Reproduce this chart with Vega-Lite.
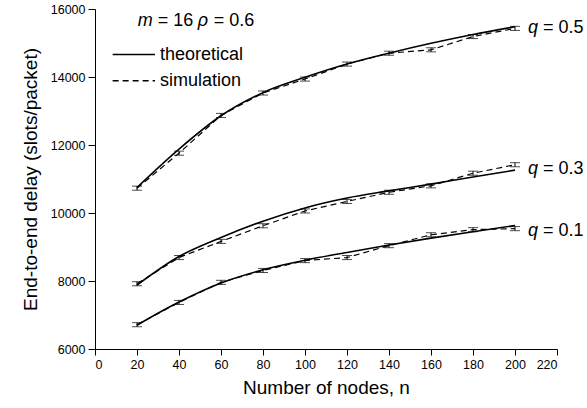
{
  "$schema": "https://vega.github.io/schema/vega-lite/v6.json",
  "width": 462,
  "height": 340,
  "autosize": {"type": "none"},
  "padding": {"left": 95, "top": 9, "right": 30, "bottom": 59},
  "background": "white",
  "config": {
    "view": {"stroke": null},
    "font": "Liberation Sans",
    "axis": {
      "grid": false,
      "domainColor": "black",
      "domainWidth": 1,
      "tickColor": "black",
      "tickWidth": 1,
      "labelColor": "black",
      "labelFont": "Liberation Sans",
      "labelFontSize": 12.5,
      "titleFont": "Liberation Sans",
      "titleFontWeight": "normal",
      "titleColor": "black",
      "titleFontSize": 19
    }
  },
  "datasets": {
    "theory": [
      {"n": 20, "v": 10750, "q": "0.5"}, {"n": 40, "v": 11880, "q": "0.5"}, {"n": 60, "v": 12860, "q": "0.5"}, {"n": 80, "v": 13540, "q": "0.5"}, {"n": 100, "v": 13990, "q": "0.5"}, {"n": 120, "v": 14380, "q": "0.5"}, {"n": 140, "v": 14700, "q": "0.5"}, {"n": 160, "v": 14990, "q": "0.5"}, {"n": 180, "v": 15250, "q": "0.5"}, {"n": 200, "v": 15480, "q": "0.5"},
      {"n": 20, "v": 7880, "q": "0.3"}, {"n": 40, "v": 8720, "q": "0.3"}, {"n": 60, "v": 9280, "q": "0.3"}, {"n": 80, "v": 9760, "q": "0.3"}, {"n": 100, "v": 10150, "q": "0.3"}, {"n": 120, "v": 10440, "q": "0.3"}, {"n": 140, "v": 10650, "q": "0.3"}, {"n": 160, "v": 10850, "q": "0.3"}, {"n": 180, "v": 11060, "q": "0.3"}, {"n": 200, "v": 11260, "q": "0.3"},
      {"n": 20, "v": 6700, "q": "0.1"}, {"n": 40, "v": 7380, "q": "0.1"}, {"n": 60, "v": 7940, "q": "0.1"}, {"n": 80, "v": 8330, "q": "0.1"}, {"n": 100, "v": 8610, "q": "0.1"}, {"n": 120, "v": 8840, "q": "0.1"}, {"n": 140, "v": 9060, "q": "0.1"}, {"n": 160, "v": 9260, "q": "0.1"}, {"n": 180, "v": 9450, "q": "0.1"}, {"n": 200, "v": 9630, "q": "0.1"}
    ],
    "sim": [
      {"n": 20, "v": 10730, "lo": 10670, "hi": 10790, "q": "0.5"}, {"n": 40, "v": 11760, "lo": 11700, "hi": 11820, "q": "0.5"}, {"n": 60, "v": 12870, "lo": 12810, "hi": 12930, "q": "0.5"}, {"n": 80, "v": 13530, "lo": 13470, "hi": 13590, "q": "0.5"}, {"n": 100, "v": 13940, "lo": 13880, "hi": 14000, "q": "0.5"}, {"n": 120, "v": 14380, "lo": 14320, "hi": 14440, "q": "0.5"}, {"n": 140, "v": 14700, "lo": 14640, "hi": 14760, "q": "0.5"}, {"n": 160, "v": 14800, "lo": 14740, "hi": 14860, "q": "0.5"}, {"n": 180, "v": 15190, "lo": 15130, "hi": 15250, "q": "0.5"}, {"n": 200, "v": 15430, "lo": 15370, "hi": 15490, "q": "0.5"},
      {"n": 20, "v": 7920, "lo": 7860, "hi": 7980, "q": "0.3"}, {"n": 40, "v": 8690, "lo": 8630, "hi": 8750, "q": "0.3"}, {"n": 60, "v": 9165, "lo": 9105, "hi": 9225, "q": "0.3"}, {"n": 80, "v": 9625, "lo": 9565, "hi": 9685, "q": "0.3"}, {"n": 100, "v": 10060, "lo": 10000, "hi": 10120, "q": "0.3"}, {"n": 120, "v": 10340, "lo": 10280, "hi": 10400, "q": "0.3"}, {"n": 140, "v": 10610, "lo": 10550, "hi": 10670, "q": "0.3"}, {"n": 160, "v": 10800, "lo": 10740, "hi": 10860, "q": "0.3"}, {"n": 180, "v": 11170, "lo": 11110, "hi": 11230, "q": "0.3"}, {"n": 200, "v": 11420, "lo": 11360, "hi": 11480, "q": "0.3"},
      {"n": 20, "v": 6715, "lo": 6655, "hi": 6775, "q": "0.1"}, {"n": 40, "v": 7370, "lo": 7310, "hi": 7430, "q": "0.1"}, {"n": 60, "v": 7960, "lo": 7900, "hi": 8020, "q": "0.1"}, {"n": 80, "v": 8310, "lo": 8250, "hi": 8370, "q": "0.1"}, {"n": 100, "v": 8600, "lo": 8540, "hi": 8660, "q": "0.1"}, {"n": 120, "v": 8690, "lo": 8630, "hi": 8750, "q": "0.1"}, {"n": 140, "v": 9040, "lo": 8980, "hi": 9100, "q": "0.1"}, {"n": 160, "v": 9360, "lo": 9300, "hi": 9420, "q": "0.1"}, {"n": 180, "v": 9510, "lo": 9450, "hi": 9570, "q": "0.1"}, {"n": 200, "v": 9540, "lo": 9480, "hi": 9600, "q": "0.1"}
    ],
    "labels": [
      {"n": 200, "v": 15450, "q": "= 0.5"},
      {"n": 200, "v": 11280, "q": "= 0.3"},
      {"n": 200, "v": 9460, "q": "= 0.1"}
    ],
    "note": [{"n": 20.3, "v": 15635}],
    "legend": [
      {"n": 8.4, "v": 14660, "type": "theoretical", "end": "start"},
      {"n": 28.6, "v": 14660, "type": "theoretical", "end": "end"},
      {"n": 8.4, "v": 13890, "type": "simulation", "end": "start"},
      {"n": 28.6, "v": 13890, "type": "simulation", "end": "end"}
    ]
  },
  "layer": [
    {
      "data": {"name": "theory"},
      "mark": {"type": "line", "color": "black", "strokeWidth": 1.6, "interpolate": "monotone"},
      "encoding": {
        "x": {
          "field": "n", "type": "quantitative",
          "scale": {"domain": [0, 220], "nice": false, "zero": false},
          "axis": {
            "values": [0, 10, 20, 30, 40, 50, 60, 70, 80, 90, 100, 110, 120, 130, 140, 150, 160, 170, 180, 190, 200, 210, 220],
            "labelExpr": "datum.value % 20 === 0 ? datum.label : ''",
            "tickSize": {"condition": {"test": "datum.value % 20 === 0", "value": 6}, "value": 4},
            "labelPadding": 3,
            "title": "Number of nodes, n",
            "titlePadding": 8
          }
        },
        "y": {
          "field": "v", "type": "quantitative",
          "scale": {"domain": [6000, 16000], "nice": false, "zero": false},
          "axis": {
            "values": [6000, 7000, 8000, 9000, 10000, 11000, 12000, 13000, 14000, 15000, 16000],
            "labelExpr": "datum.value % 2000 === 0 ? datum.label : ''",
            "format": "d",
            "tickSize": {"condition": {"test": "datum.value % 2000 === 0", "value": 7}, "value": 4},
            "labelPadding": 3,
            "title": "End-to-end delay (slots/packet)",
            "titlePadding": 10
          }
        },
        "detail": {"field": "q"}
      }
    },
    {
      "data": {"name": "sim"},
      "mark": {"type": "line", "color": "black", "strokeWidth": 1.2, "strokeDash": [6, 4]},
      "encoding": {
        "x": {"field": "n", "type": "quantitative"},
        "y": {"field": "v", "type": "quantitative"},
        "detail": {"field": "q"}
      }
    },
    {
      "data": {"name": "sim"},
      "mark": {"type": "rule", "color": "black", "strokeWidth": 1},
      "encoding": {
        "x": {"field": "n", "type": "quantitative"},
        "y": {"field": "lo", "type": "quantitative"},
        "y2": {"field": "hi"}
      }
    },
    {
      "data": {"name": "sim"},
      "mark": {"type": "tick", "orient": "horizontal", "color": "black", "size": 10, "thickness": 1},
      "encoding": {
        "x": {"field": "n", "type": "quantitative"},
        "y": {"field": "lo", "type": "quantitative"}
      }
    },
    {
      "data": {"name": "sim"},
      "mark": {"type": "tick", "orient": "horizontal", "color": "black", "size": 10, "thickness": 1},
      "encoding": {
        "x": {"field": "n", "type": "quantitative"},
        "y": {"field": "hi", "type": "quantitative"}
      }
    },
    {
      "data": {"name": "labels"},
      "mark": {"type": "text", "align": "left", "baseline": "middle", "dx": 13, "fontSize": 18, "fontStyle": "italic", "font": "Liberation Sans", "color": "black", "text": "q"},
      "encoding": {
        "x": {"field": "n", "type": "quantitative"},
        "y": {"field": "v", "type": "quantitative"}
      }
    },
    {
      "data": {"name": "labels"},
      "mark": {"type": "text", "align": "left", "baseline": "middle", "dx": 28, "fontSize": 18, "font": "Liberation Sans", "color": "black"},
      "encoding": {
        "x": {"field": "n", "type": "quantitative"},
        "y": {"field": "v", "type": "quantitative"},
        "text": {"field": "q"}
      }
    },
    {
      "data": {"name": "note"},
      "mark": {"type": "text", "align": "left", "baseline": "middle", "dx": 0, "fontSize": 18, "fontStyle": "italic", "font": "Liberation Sans", "color": "black", "text": "m"},
      "encoding": {
        "x": {"field": "n", "type": "quantitative"},
        "y": {"field": "v", "type": "quantitative"}
      }
    },
    {
      "data": {"name": "note"},
      "mark": {"type": "text", "align": "left", "baseline": "middle", "dx": 20, "fontSize": 18, "font": "Liberation Sans", "color": "black", "text": "= 16"},
      "encoding": {
        "x": {"field": "n", "type": "quantitative"},
        "y": {"field": "v", "type": "quantitative"}
      }
    },
    {
      "data": {"name": "note"},
      "mark": {"type": "text", "align": "left", "baseline": "middle", "dx": 60, "fontSize": 18, "fontStyle": "italic", "font": "Liberation Sans", "color": "black", "text": "ρ"},
      "encoding": {
        "x": {"field": "n", "type": "quantitative"},
        "y": {"field": "v", "type": "quantitative"}
      }
    },
    {
      "data": {"name": "note"},
      "mark": {"type": "text", "align": "left", "baseline": "middle", "dx": 76, "fontSize": 18, "font": "Liberation Sans", "color": "black", "text": "= 0.6"},
      "encoding": {
        "x": {"field": "n", "type": "quantitative"},
        "y": {"field": "v", "type": "quantitative"}
      }
    },
    {
      "data": {"name": "legend"},
      "mark": {"type": "line", "color": "black", "strokeWidth": 1.6},
      "encoding": {
        "x": {"field": "n", "type": "quantitative"},
        "y": {"field": "v", "type": "quantitative"},
        "detail": {"field": "type"},
        "strokeDash": {
          "field": "type", "type": "nominal",
          "scale": {"domain": ["theoretical", "simulation"], "range": [[1, 0], [6, 4]]},
          "legend": null
        }
      }
    },
    {
      "data": {"name": "legend"},
      "transform": [{"filter": "datum.end === 'end'"}],
      "mark": {"type": "text", "align": "left", "baseline": "middle", "dx": 5, "fontSize": 18, "font": "Liberation Sans", "color": "black"},
      "encoding": {
        "x": {"field": "n", "type": "quantitative"},
        "y": {"field": "v", "type": "quantitative"},
        "text": {"field": "type"}
      }
    }
  ]
}
